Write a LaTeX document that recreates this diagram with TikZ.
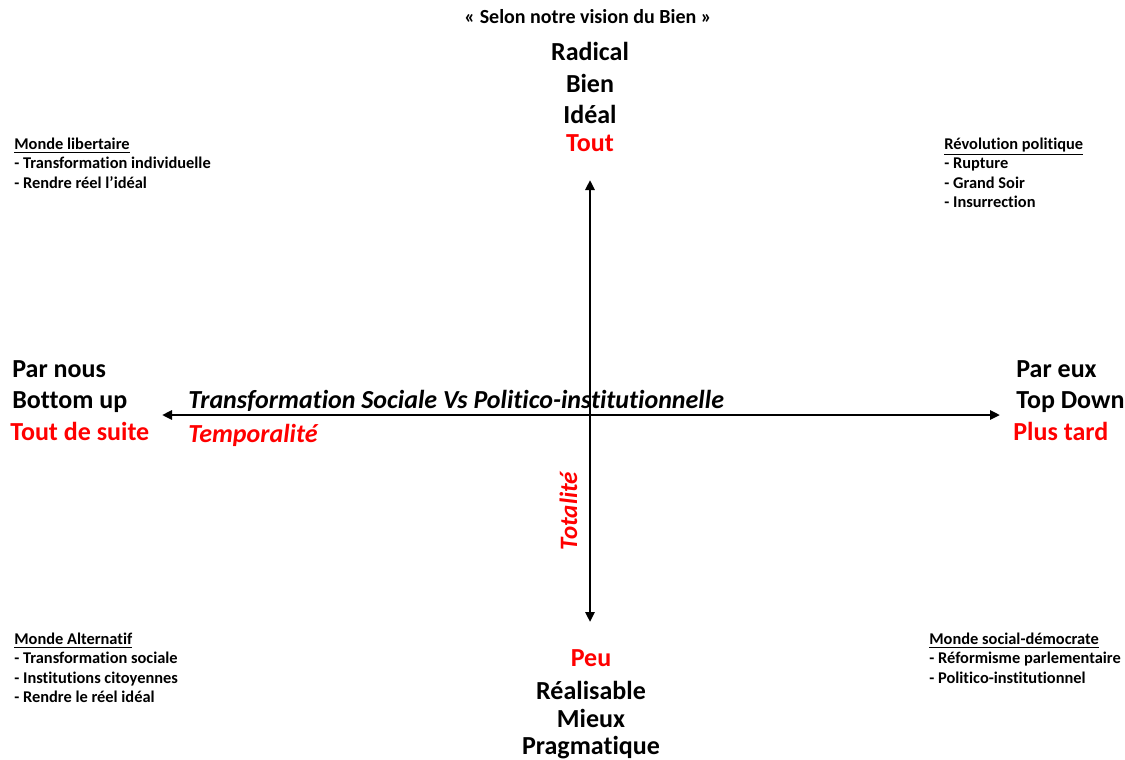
\documentclass[tikz,border=0pt]{standalone}
\usepackage{fontspec}
\setmainfont{Carlito}[Ligatures={TeX,NoCommon}]
\usetikzlibrary{positioning,arrows.meta}
\definecolor{rouge}{RGB}{255,0,0}

\tikzset{
  word/.style={font=\fontsize{13}{15}\selectfont\bfseries, inner sep=0pt, text height=9pt, text depth=3pt},
  redword/.style={word, text=rouge},
  axislabel/.style={font=\fontsize{13}{15}\selectfont\bfseries\itshape, inner sep=0pt},
  listbox/.style={font=\fontsize{8.2}{9.75}\selectfont\bfseries, align=left, inner sep=0pt, anchor=base west},
  axis/.style={line width=1.4pt, {Triangle[width=4.5pt,length=5pt]}-{Triangle[width=4.5pt,length=5pt]}},
}

\begin{document}
\begin{tikzpicture}[x=0.5pt, y=-0.5pt]
\useasboundingbox (0,0) rectangle (1125,760);

% Axes
\coordinate (top) at (590,180);
\coordinate (bottom) at (590,622);
\coordinate (left) at (162,415);
\coordinate (right) at (1000,415);
\draw[axis] (bottom) -- (top);
\draw[axis] (left) -- (right);

% Top
\node[font=\fontsize{10}{12}\selectfont\bfseries, inner sep=0pt, anchor=base] (vision) at (588,24) {« Selon notre vision du Bien »};
\node[word, anchor=base] (radical) at (590,61) {Radical};
\node[word, below=3.25pt of radical] (bien) {Bien};
\node[word, below=3.25pt of bien] (ideal) {Idéal};
\node[redword, below=1.5pt of ideal] (tout) {Tout};

% Bottom
\node[redword, anchor=base] (peu) at (591,666) {Peu};
\node[word, below=4.5pt of peu] (realisable) {Réalisable};
\node[word, below=1.25pt of realisable] (mieux) {Mieux};
\node[word, below=1.25pt of mieux] (pragma) {Pragmatique};

% Left
\node[word, anchor=base west] (parnous) at (12,377) {Par nous};
\node[word, below=3.5pt of parnous.south west, anchor=north west] (bottomup) {Bottom up};
\node[redword, below=3.5pt of bottomup.south west, anchor=north west, xshift=-1pt] (suite) {Tout de suite};

% Right
\node[word, anchor=base west] (pareux) at (1016,377) {Par eux};
\node[word, below=3.5pt of pareux.south west, anchor=north west] (topdown) {Top Down};
\node[redword, below=3.5pt of topdown.south west, anchor=north west, xshift=-1.5pt] (tard) {Plus tard};

% Axis labels
\node[axislabel, anchor=base west] (transfo) at (188,408) {Transformation Sociale Vs Politico-institutionnelle};
\node[axislabel, text=rouge, anchor=base west] (tempo) at (188,442) {Temporalité};
\node[axislabel, font=\fontsize{12.5}{15}\selectfont\bfseries\itshape, text=rouge, rotate=90, anchor=base] (totalite) at (577,511) {Totalité};

% Quadrants (base = last line)
\node[listbox] (libertaire) at (14,188) {\underline{Monde libertaire}\\- Transformation individuelle\\- Rendre réel l’idéal};
\node[listbox] (revolution) at (944,207.5) {\underline{Révolution politique}\\- Rupture\\- Grand Soir\\- Insurrection};
\node[listbox] (alternatif) at (14,702.5) {\underline{Monde Alternatif}\\- Transformation sociale\\- Institutions citoyennes\\- Rendre le réel idéal};
\node[listbox] (socdem) at (929,683) {\underline{Monde social-démocrate}\\- Réformisme parlementaire\\- Politico-institutionnel};

\end{tikzpicture}
\end{document}
